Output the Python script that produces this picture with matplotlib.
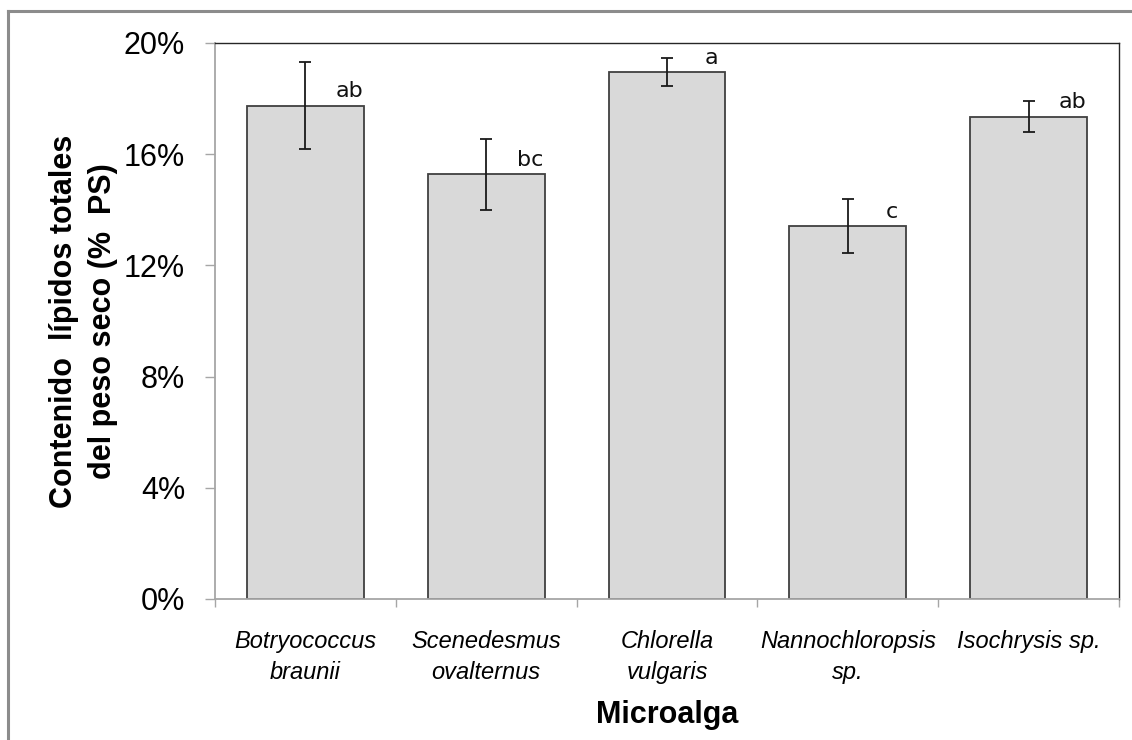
import matplotlib
matplotlib.use("Agg")
import matplotlib.pyplot as plt
from matplotlib.lines import Line2D
from matplotlib.ticker import FuncFormatter
import numpy as np

categories = ["Botryococcus\nbraunii", "Scenedesmus\novalternus", "Chlorella\nvulgaris",
              "Nannochloropsis\nsp.", "Isochrysis sp."]
means = [17.75, 15.28, 18.95, 13.42, 17.35]
errors = [1.57, 1.27, 0.50, 0.98, 0.56]
letters = ["ab", "bc", "a", "c", "ab"]
yticks = [0, 4, 8, 12, 16, 20]

plt.rcParams['font.family'] = ['Liberation Sans', 'DejaVu Sans']

fig = plt.figure(figsize=(11.32, 7.40), dpi=100)
ax = fig.add_axes([215/1132, (740-599)/740, (1119-215)/1132, (599-43)/740])

x = np.arange(len(categories))
ax.bar(x, means, width=0.645, color="#D9D9D9", edgecolor="#404040", linewidth=1.3, zorder=2)
ax.errorbar(x, means, yerr=errors, fmt='none', ecolor="#1a1a1a", elinewidth=1.3,
            capsize=4.5, capthick=1.3, zorder=3)

for xi, m, lab in zip(x, means, letters):
    ax.annotate(lab, xy=(xi + 0.245, m), xytext=(0, 6), textcoords='offset points',
                ha='center', va='baseline', fontsize=16, family='DejaVu Sans', color="#111111")

ax.set_xlim(-0.5, len(categories) - 0.5)
ax.set_ylim(0, 20)
ax.set_yticks(yticks)
ax.yaxis.set_major_formatter(FuncFormatter(lambda v, p: f"{v:.0f}%"))
ax.tick_params(axis='y', length=7.5, width=1, color="#A6A6A6", pad=14, labelsize=22)

ax.set_xticks(np.arange(-0.5, len(categories), 1.0))
ax.set_xticklabels([])
ax.set_xticks(x, minor=True)
ax.set_xticklabels(categories, minor=True, fontsize=17, style='italic', linespacing=1.45)
ax.tick_params(axis='x', which='major', length=6, width=1, color="#A6A6A6", direction='out')
ax.tick_params(axis='x', which='minor', length=0, pad=22)

for s in ['left', 'bottom']:
    ax.spines[s].set_color("#A6A6A6")
    ax.spines[s].set_linewidth(1.3)
for s in ['top', 'right']:
    ax.spines[s].set_color("#262626")
    ax.spines[s].set_linewidth(1.0)

ax.set_xlabel("Microalga", fontsize=22, fontweight='bold', labelpad=12)
ax.set_ylabel("Contenido  lípidos totales\ndel peso seco (%  PS)", fontsize=22,
              fontweight='bold', labelpad=4, linespacing=1.4)

# outer frame fragments (top and left)
fig.add_artist(Line2D([8/1132, 1.0], [1 - 11/740, 1 - 11/740], transform=fig.transFigure,
                      color="#8C8C8C", linewidth=2.2))
fig.add_artist(Line2D([8/1132, 8/1132], [0.0, 1 - 11/740], transform=fig.transFigure,
                      color="#8C8C8C", linewidth=2.2))

fig.savefig("out.png", dpi=100)
